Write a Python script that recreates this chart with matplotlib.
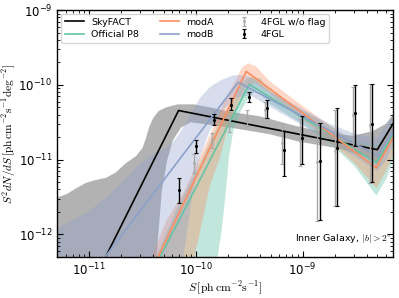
import numpy as np
import matplotlib
matplotlib.use("Agg")
import matplotlib.pyplot as plt
from matplotlib.ticker import NullFormatter, LogLocator

plt.rcParams['mathtext.fontset'] = 'cm'
plt.rcParams['font.family'] = ['DejaVu Sans']

# ---------------- data (log10 values) ----------------
# model lines: log10 S, log10 S^2 dN/dS
sky_lS = [-11.31, -10.163, -8.302, -8.155]
sky_lY = [-13.63, -10.342, -10.866, -10.52]
p8_lS = [-10.60, -9.502, -8.312, -8.155]
p8_lY = [-13.03, -9.993, -11.040, -10.664]
modA_lS = [-10.60, -9.530, -8.312, -8.155]
modA_lY = [-13.04, -9.819, -11.107, -10.705]
modB_lS = [-11.31, -9.605, -8.302, -8.155]
modB_lY = [-13.16, -9.966, -10.946, -10.611]

# uncertainty bands: upper edge and lower edge (log10 S, log10 value)
sky_up_lS = [-11.31, -11.21, -11.12, -11.03, -10.96, -10.84, -10.75, -10.66, -10.56, -10.50,
             -10.47, -10.44, -10.40, -10.35, -10.28, -10.17, -10.02, -9.87, -9.68, -9.40,
             -9.09, -8.78, -8.53, -8.35, -8.22, -8.14]
sky_up_lY = [-11.51, -11.46, -11.38, -11.31, -11.28, -11.24, -11.17, -11.05, -10.95, -10.84,
             -10.72, -10.57, -10.44, -10.35, -10.30, -10.26, -10.26, -10.30, -10.36, -10.42,
             -10.54, -10.64, -10.68, -10.62, -10.52, -10.37]
sky_lo_lS = [-11.31, -10.42, -10.37, -10.35, -10.32, -10.27, -10.22, -10.14, -10.05, -9.68,
             -9.31, -9.03, -8.66, -8.42, -8.30, -8.22, -8.14]
sky_lo_lY = [-14.0, -13.5, -12.32, -11.95, -11.42, -11.01, -10.75, -10.57, -10.50, -10.57,
             -10.66, -10.76, -10.85, -10.95, -11.05, -10.88, -10.69]

modB_up_lS = [-11.31, -11.17, -11.00, -10.84, -10.68, -10.52, -10.38, -10.28, -10.19, -10.12,
              -10.03, -9.96, -9.87, -9.77, -9.65, -9.54, -9.45, -9.31, -9.03, -8.75,
              -8.52, -8.30, -8.22, -8.14]
modB_up_lY = [-11.93, -11.82, -11.69, -11.50, -11.28, -11.04, -10.91, -10.84, -10.72, -10.57,
              -10.34, -10.17, -10.03, -9.94, -9.87, -9.87, -9.93, -10.09, -10.30, -10.52,
              -10.65, -10.71, -10.54, -10.37]
modB_lo_lS = [-11.31, -10.12, -10.12, -10.07, -10.03, -9.96, -9.87, -9.75, -9.63, -9.49,
              -9.31, -9.03, -8.75, -8.52, -8.30, -8.22, -8.14]
modB_lo_lY = [-14.0, -13.5, -12.32, -11.82, -11.42, -10.95, -10.61, -10.34, -10.17, -10.14,
              -10.29, -10.52, -10.75, -10.95, -11.15, -11.01, -10.77]

modA_up_lS = [-10.42, -10.42, -10.28, -10.11, -9.98, -9.85, -9.73, -9.63, -9.57, -9.51,
              -9.44, -9.31, -9.03, -8.75, -8.52, -8.31, -8.22, -8.14]
modA_up_lY = [-14.0, -12.32, -11.82, -11.42, -11.01, -10.61, -10.21, -9.94, -9.77, -9.71,
              -9.75, -9.95, -10.25, -10.54, -10.77, -10.84, -10.65, -10.48]
modA_lo_lS = [-10.02, -10.02, -9.96, -9.87, -9.77, -9.71, -9.63, -9.54, -9.45, -9.31,
              -9.03, -8.75, -8.52, -8.31, -8.22, -8.14]
modA_lo_lY = [-14.0, -12.32, -11.95, -11.35, -10.95, -10.61, -10.32, -10.05, -9.97, -10.11,
              -10.44, -10.75, -11.04, -11.38, -11.15, -10.91]

p8_up_lS = [-10.38, -10.38, -10.19, -10.00, -9.82, -9.66, -9.57, -9.49, -9.40, -9.31,
            -9.03, -8.75, -8.52, -8.31, -8.22, -8.14]
p8_up_lY = [-14.0, -12.32, -11.69, -11.15, -10.61, -10.21, -9.97, -9.89, -9.91, -10.07,
            -10.32, -10.54, -10.75, -10.81, -10.64, -10.45]
p8_lo_lS = [-9.80, -9.80, -9.76, -9.72, -9.69, -9.65, -9.59, -9.51, -9.43, -9.31,
            -9.03, -8.75, -8.52, -8.31, -8.22, -8.14]
p8_lo_lY = [-14.0, -12.32, -11.95, -11.42, -10.95, -10.61, -10.37, -10.18, -10.07, -10.25,
            -10.50, -10.77, -11.08, -11.48, -11.26, -10.95]

# 4FGL data points
fgl_lS = [-10.163, -9.998, -9.833, -9.668, -9.503, -9.338, -9.173, -9.008, -8.843, -8.678, -8.513, -8.348]
fgl_lY = [-11.403, -10.812, -10.463, -10.262, -10.168, -10.302, -10.866, -10.705, -11.013, -10.839, -10.369, -10.517]
fgl_lo = [-11.577, -10.906, -10.530, -10.342, -10.235, -10.436, -11.215, -11.054, -11.805, -11.617, -10.812, -11.295]
fgl_hi = [-11.242, -10.732, -10.383, -10.181, -10.101, -10.208, -10.611, -10.409, -10.503, -10.315, -10.007, -9.993]

# 4FGL w/o flag data points
nof_lS = [-10.018, -9.853, -9.688, -9.523, -9.358, -9.193, -9.028, -8.863, -8.698, -8.533, -8.368]
nof_lY = [-11.040, -10.732, -10.517, -10.436, -10.342, -10.772, -10.745, -11.027, -10.879, -10.396, -10.530]
nof_lo = [-11.174, -10.839, -10.624, -10.544, -10.436, -11.054, -11.081, -11.819, -11.617, -10.839, -11.309]
nof_hi = [-10.919, -10.638, -10.396, -10.329, -10.235, -10.517, -10.450, -10.503, -10.342, -10.034, -9.993]

x_major = [1e-11, 1e-10, 1e-9]
y_major = [1e-12, 1e-11, 1e-10, 1e-9]

c_p8 = '#66c2a5'
c_A = '#fc8d62'
c_B = '#8da0cb'

def p(a):
    return 10.0 ** np.asarray(a)

fig = plt.figure(figsize=(3.99, 2.98), dpi=100)
ax = fig.add_axes([0.143, 0.1376, 0.842, 0.8284])
ax.set_xscale('log')
ax.set_yscale('log')

def band(up_s, up_y, lo_s, lo_y, color, alpha):
    xs = np.concatenate([p(up_s), p(lo_s)[::-1]])
    ys = np.concatenate([p(up_y), p(lo_y)[::-1]])
    ax.fill(xs, ys, color=color, alpha=alpha, lw=0)

band(sky_up_lS, sky_up_lY, sky_lo_lS, sky_lo_lY, 'grey', 0.6)
band(p8_up_lS, p8_up_lY, p8_lo_lS, p8_lo_lY, c_p8, 0.4)
band(modA_up_lS, modA_up_lY, modA_lo_lS, modA_lo_lY, c_A, 0.35)
band(modB_up_lS, modB_up_lY, modB_lo_lS, modB_lo_lY, c_B, 0.35)

l1, = ax.plot(p(sky_lS), p(sky_lY), color='black', lw=1.2, label='SkyFACT')
l2, = ax.plot(p(p8_lS), p(p8_lY), color=c_p8, lw=1.2, label='Official P8')
l3, = ax.plot(p(modA_lS), p(modA_lY), color=c_A, lw=1.2, label='modA')
l4, = ax.plot(p(modB_lS), p(modB_lY), color=c_B, lw=1.2, label='modB')

ny = p(nof_lY)
e1 = ax.errorbar(p(nof_lS), ny, yerr=[ny - p(nof_lo), p(nof_hi) - ny], fmt='.', ms=2,
                 color='#a8a8a8', elinewidth=1.0, capsize=1.5, capthick=0.8,
                 label='4FGL w/o flag')
fy = p(fgl_lY)
e2 = ax.errorbar(p(fgl_lS), fy, yerr=[fy - p(fgl_lo), p(fgl_hi) - fy], fmt='.', ms=2.5,
                 color='black', elinewidth=1.0, capsize=1.5, capthick=0.8,
                 label='4FGL')

ax.set_xlim(5e-12, 7e-9)
ax.set_ylim(5e-13, 1e-9)
ax.set_xticks(x_major)
ax.set_yticks(y_major)
ax.xaxis.set_minor_locator(LogLocator(base=10, subs=np.arange(2, 10), numticks=20))
ax.yaxis.set_minor_locator(LogLocator(base=10, subs=np.arange(2, 10), numticks=20))
ax.xaxis.set_minor_formatter(NullFormatter())
ax.yaxis.set_minor_formatter(NullFormatter())

ax.tick_params(which='both', direction='in', top=True, right=True, labelsize=8.5)
ax.tick_params(which='major', length=4, width=0.8)
ax.tick_params(which='minor', length=2, width=0.6)
for s in ax.spines.values():
    s.set_linewidth(1.0)

ax.set_xlabel(r'$S\,[\mathrm{ph\,cm^{-2}s^{-1}}]$', fontsize=8.5, labelpad=1)
ax.set_ylabel(r'$S^2 dN/dS\,[\mathrm{ph\,cm^{-2}s^{-1}deg^{-2}}]$', fontsize=8.2, labelpad=0)

ax.legend(handles=[l1, l2, l3, l4, e1, e2], ncol=3, loc='upper left', fontsize=6.8,
          frameon=True, handlelength=2.0, columnspacing=2.2, borderaxespad=0.4,
          handletextpad=0.8, labelspacing=0.35)

ax.text(0.995, 0.05, r'Inner Galaxy, $|b|>2^{\circ}$', transform=ax.transAxes,
        ha='right', va='bottom', fontsize=6.8)

fig.savefig('out.png', dpi=100)
